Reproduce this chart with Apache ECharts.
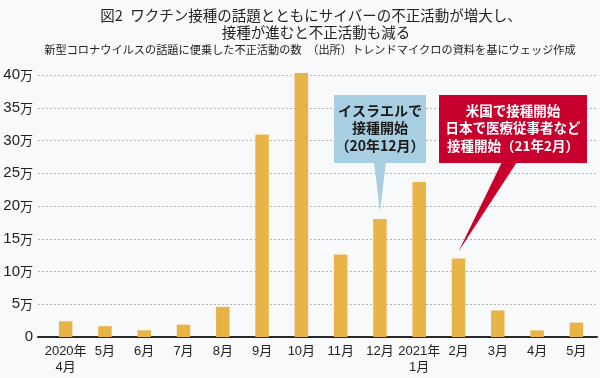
<!DOCTYPE html>
<html><head><meta charset="utf-8">
<script src="https://cdn.jsdelivr.net/npm/echarts@6/dist/echarts.min.js"></script>
<style>html,body{margin:0;padding:0;background:#f8f9fb;}#c{width:600px;height:378px;}</style>
</head><body><div id="c"></div>
<script>
const titleLines = ['図2\u2002ワクチン接種の話題とともにサイバーの不正活動が増大し、', '接種が進むと不正活動も減る'];
const subtitle = '新型コロナウイルスの話題に便乗した不正活動の数\u3000（出所）トレンドマイクロの資料を基にウェッジ作成';
const categories = ['2020年\n4月','5月','6月','7月','8月','9月','10月','11月','12月','2021年\n1月','2月','3月','4月','5月'];
const values = [24000, 16500, 10200, 18800, 46000, 309000, 403000, 126000, 180000, 236500, 120000, 40500, 10000, 22000];
const yMin = 0, yMax = 400000, yInterval = 50000;
const note1 = {text: 'イスラエルで\n接種開始\n（20年12月）', index: 8};
const note2 = {text: '米国で接種開始\n日本で医療従事者など\n接種開始（21年2月）', index: 10};

const JP = '"Noto Sans CJK JP", sans-serif';
const NUM = '"Liberation Sans", "Noto Sans CJK JP", sans-serif';

const chart = echarts.init(document.getElementById('c'), null, {renderer: 'canvas', width: 600, height: 378});
const option = {
  backgroundColor: '#f8f9fb',
  animation: false,
  grid: [
    {left: 46, right: 4, top: 75, bottom: 41},
    {left: 38, right: 3, top: 75, bottom: 41}
  ],
  xAxis: [
    {type: 'category', gridIndex: 0, data: categories,
     axisLine: {show: false}, axisTick: {show: false},
     axisLabel: {interval: 0, margin: 6, color: '#222', fontSize: 13, lineHeight: 16, fontFamily: NUM}},
    {type: 'category', gridIndex: 1, data: ['a'],
     axisLine: {show: true, lineStyle: {color: '#2a2a2a', width: 2}},
     axisTick: {show: false}, axisLabel: {show: false}}
  ],
  yAxis: [
    {type: 'value', gridIndex: 0, min: yMin, max: yMax, interval: yInterval, show: false, splitLine: {show: false}},
    {type: 'value', gridIndex: 1, min: yMin, max: yMax, interval: yInterval,
     axisLine: {show: false}, axisTick: {show: false},
     splitLine: {show: true, lineStyle: {color: '#b4b4b4', type: [2, 2], width: 1}},
     axisLabel: {margin: 5, color: '#222',
       formatter: v => v === 0 ? '{n|0}' : '{n|' + (v / 10000) + '}{u|万}',
       rich: {n: {fontSize: 15, fontFamily: NUM, color: '#222'}, u: {fontSize: 13, fontFamily: JP, color: '#222'}}}}
  ],
  series: [{
    type: 'bar', xAxisIndex: 0, yAxisIndex: 0, data: values, barWidth: 13.5, clip: false,
    itemStyle: {color: '#e8b447'}
  }]
};
chart.setOption(option);

const tip1 = chart.convertToPixel({gridIndex: 0}, [note1.index, values[note1.index]]);
const tip2 = chart.convertToPixel({gridIndex: 0}, [note2.index, values[note2.index]]);

function txt(id, text, x, y, size, weight, color, lh) {
  return {type: 'text', id: id, z: 20, style: {
    text: text, x: x, y: y, fill: color,
    font: weight + ' ' + size + 'px ' + JP, fontSize: size, fontWeight: weight, fontFamily: JP,
    textAlign: 'center', textVerticalAlign: 'middle', align: 'center', verticalAlign: 'middle',
    lineHeight: lh || size * 1.2
  }};
}

chart.setOption({graphic: [
  txt('t1', titleLines[0], 311, 15, 14.5, 'normal', '#222'),
  txt('t2', titleLines[1], 316, 32, 14.5, 'normal', '#222'),
  txt('st', subtitle, 310, 50, 11.2, 'normal', '#222'),
  {type: 'polygon', id: 'p1', z: 15, shape: {points: [[374, 162], [386, 162], [tip1[0], tip1[1] - 7]]}, style: {fill: '#a8cfe1'}},
  {type: 'rect', id: 'b1', z: 15, shape: {x: 334, y: 95, width: 92, height: 68}, style: {fill: '#a8cfe1'}},
  txt('n1', note1.text, 380, 128, 14, 'bold', '#1a1a1a', 17.5),
  {type: 'polygon', id: 'p2', z: 15, shape: {points: [[502, 162], [517, 162], [tip2[0], tip2[1] - 7]]}, style: {fill: '#c8002d'}},
  {type: 'rect', id: 'b2', z: 15, shape: {x: 439, y: 95, width: 148, height: 68}, style: {fill: '#c8002d'}},
  txt('n2', note2.text, 513, 128, 13.5, 'bold', '#ffffff', 17.5)
]});
</script>
</body></html>
